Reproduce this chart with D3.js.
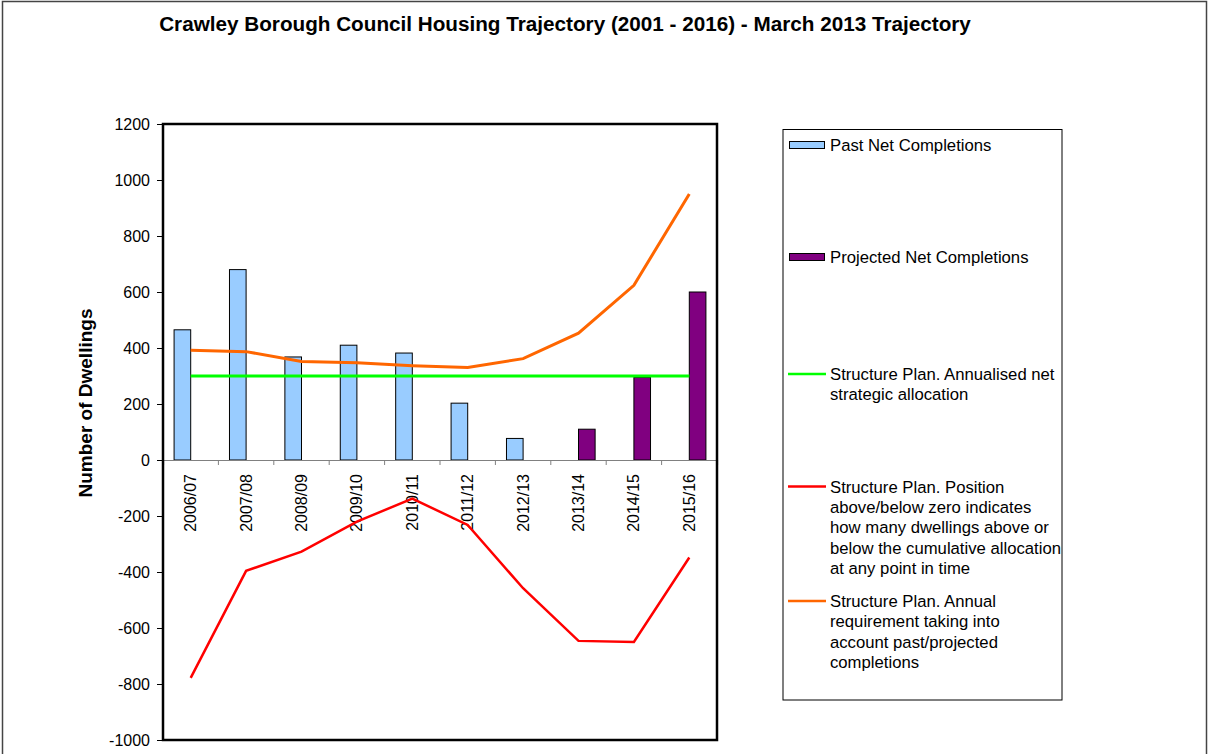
<!DOCTYPE html>
<html><head><meta charset="utf-8">
<script src="https://cdn.jsdelivr.net/npm/d3@7/dist/d3.min.js"></script>
<style>body{margin:0;background:#fff}svg{display:block;font-family:"Liberation Sans",Arial,sans-serif}</style>
</head><body>
<svg id="c" width="1211" height="754"></svg>
<script>
const categories = ["2006/07","2007/08","2008/09","2009/10","2010/11","2011/12","2012/13","2013/14","2014/15","2015/16"];
const pastCompletions = [465, 680, 368, 410, 382, 203, 77, null, null, null];
const projectedCompletions = [null, null, null, null, null, null, null, 110, 295, 600];
const annualisedAllocation = [300, 300, 300, 300, 300, 300, 300, 300, 300, 300];
const positionVsAllocation = [-778, -396, -327, -220, -138, -232, -458, -646, -650, -348];
const annualRequirement = [392, 387, 352, 347, 337, 330, 362, 453, 624, 950];
const yTicks = [1200, 1000, 800, 600, 400, 200, 0, -200, -400, -600, -800, -1000];
const title = "Crawley Borough Council Housing Trajectory (2001 - 2016) - March 2013 Trajectory";
const yLabel = "Number of Dwellings";

const FONT = "Liberation Sans, Arial, sans-serif";
const svg = d3.select("#c");
const L = 163, R = 717, T = 124, B = 740;

// outer frame
svg.append("rect").attr("x",2.5).attr("y",1.5).attr("width",1204).attr("height",760)
  .attr("fill","#fff").attr("stroke","#444").attr("stroke-width",1.5);

svg.append("text").attr("x",565).attr("y",31).attr("text-anchor","middle")
  .attr("font-weight","bold").attr("font-size",20.7).text(title);

const x = d3.scaleBand().domain(categories).range([L, R]);
const y = d3.scaleLinear().domain([-1000, 1200]).range([B, T]);
const bw = x.bandwidth() * 0.3;

const g = svg.append("g");

// bars
g.selectAll(".past").data(categories.map((c,i)=>({c,v:pastCompletions[i]})).filter(d=>d.v!=null))
  .join("rect").attr("x",d=>x(d.c)+x.bandwidth()/2-bw).attr("width",bw)
  .attr("y",d=>y(d.v)).attr("height",d=>y(0)-y(d.v))
  .attr("fill","#99CCFF").attr("stroke","#000").attr("stroke-width",1);
g.selectAll(".proj").data(categories.map((c,i)=>({c,v:projectedCompletions[i]})).filter(d=>d.v!=null))
  .join("rect").attr("x",d=>x(d.c)+x.bandwidth()/2).attr("width",bw)
  .attr("y",d=>y(d.v)).attr("height",d=>y(0)-y(d.v))
  .attr("fill","#800080").attr("stroke","#000").attr("stroke-width",1);

// zero axis with category ticks
const xAxis = d3.axisBottom(x).tickSize(5).tickFormat("");
const xa = g.append("g").attr("transform",`translate(0,${y(0)})`).call(xAxis);
xa.select(".domain").attr("stroke","#808080").attr("stroke-width",1.2);
xa.selectAll(".tick line").attr("stroke","#808080")
  .attr("transform",`translate(${x.bandwidth()/2},0)`);
xa.selectAll(".tick").filter((d,i)=>i===categories.length-1).select("line").remove();

// category labels
g.selectAll(".cl").data(categories).join("text")
  .attr("transform",d=>`translate(${x(d)+x.bandwidth()/2+5.5},${y(0)+14}) rotate(-90)`)
  .attr("text-anchor","end").attr("font-size",16).text(d=>d);

const line = d3.line().x((d,i)=>x(categories[i])+x.bandwidth()/2).y(d=>y(d));
g.append("path").datum(annualisedAllocation).attr("d",line).attr("fill","none").attr("stroke","#00FF00").attr("stroke-width",3);
g.append("path").datum(positionVsAllocation).attr("d",line).attr("fill","none").attr("stroke","#FF0000").attr("stroke-width",2.5);
g.append("path").datum(annualRequirement).attr("d",line).attr("fill","none").attr("stroke","#FF6600").attr("stroke-width",3);

// plot frame
svg.append("rect").attr("x",L).attr("y",T).attr("width",R-L).attr("height",B-T)
  .attr("fill","none").attr("stroke","#000").attr("stroke-width",2.5);

// y axis
const ya = svg.append("g").attr("transform",`translate(${L},0)`)
  .call(d3.axisLeft(y).tickValues(yTicks).tickSize(6).tickPadding(7).tickFormat(d=>d<0?"-"+Math.abs(d):String(d)));
ya.select(".domain").remove();
ya.selectAll(".tick line").attr("stroke","#000");
ya.selectAll(".tick text").attr("font-size",16).attr("fill","#000").attr("font-family",FONT);

svg.append("text").attr("transform",`translate(92,403) rotate(-90)`).attr("text-anchor","middle")
  .attr("font-weight","bold").attr("font-size",19).text(yLabel);

// legend
const lg = svg.append("g");
lg.append("rect").attr("x",783).attr("y",129.5).attr("width",279).attr("height",570.5)
  .attr("fill","#fff").attr("stroke","#000").attr("stroke-width",1);
const legendItems = [
  {type:"bar", fill:"#99CCFF", y:145, lines:["Past Net Completions"]},
  {type:"bar", fill:"#800080", y:257, lines:["Projected Net Completions"]},
  {type:"line", stroke:"#00FF00", y:374, lines:["Structure Plan. Annualised net","strategic allocation"]},
  {type:"line", stroke:"#FF0000", y:486.5, lines:["Structure Plan. Position","above/below zero indicates","how many dwellings above or","below the cumulative allocation","at any point in time"]},
  {type:"line", stroke:"#FF6600", y:601, lines:["Structure Plan. Annual","requirement taking into","account past/projected","completions"]}
];
legendItems.forEach(it=>{
  if(it.type==="bar"){
    lg.append("rect").attr("x",789.5).attr("y",it.y-3.5).attr("width",35).attr("height",7)
      .attr("fill",it.fill).attr("stroke","#000").attr("stroke-width",1);
  } else {
    lg.append("line").attr("x1",788).attr("x2",826).attr("y1",it.y).attr("y2",it.y)
      .attr("stroke",it.stroke).attr("stroke-width",2.5);
  }
  const t = lg.append("text").attr("x",830).attr("y",it.y+6).attr("font-size",16.7);
  it.lines.forEach((s,k)=>t.append("tspan").attr("x",830).attr("dy",k===0?0:20.4).text(s));
});
</script>
</body></html>
